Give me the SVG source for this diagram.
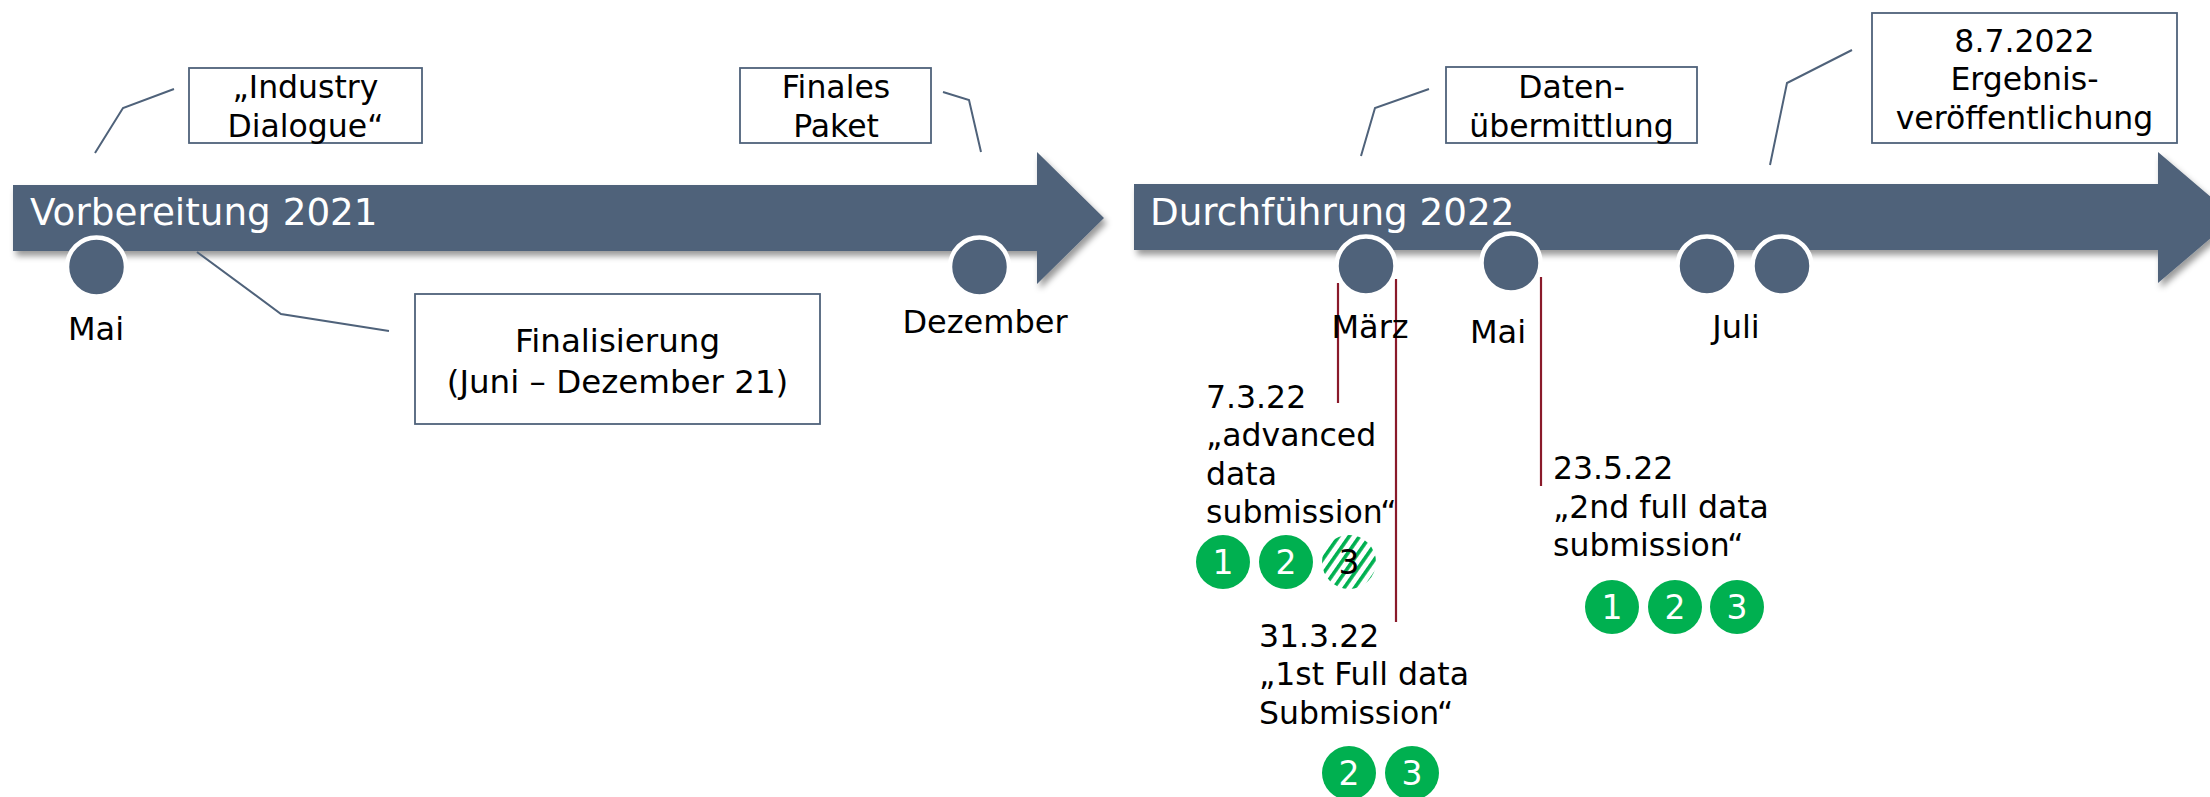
<svg xmlns="http://www.w3.org/2000/svg" width="2210" height="797" viewBox="0 0 2210 797">
<style>
text{font-family:"DejaVu Sans","Liberation Sans",sans-serif;}
.bar{fill:#4F627A;}
.bartxt{fill:#FFFFFF;font-size:37.3px;}
.box{fill:#FFFFFF;stroke:#4F627A;stroke-width:1.8;}
.bt{fill:#000;font-size:31.5px;text-anchor:middle;}
.lbl{fill:#000;font-size:32px;text-anchor:middle;}
.note{fill:#000;font-size:31.5px;}
.dot{fill:#4F627A;stroke:#FFFFFF;stroke-width:4.5;}
.call{fill:none;stroke:#4F627A;stroke-width:2;}
.red{stroke:#8A1A2A;stroke-width:2.2;}
.g{fill:#00B050;}
.gt{fill:#FFFFFF;font-size:33px;text-anchor:middle;}
</style>
<defs>
<filter id="sh" x="-5%" y="-30%" width="110%" height="170%">
<feDropShadow dx="3" dy="5" stdDeviation="3" flood-color="#000" flood-opacity="0.4"/>
</filter>
<pattern id="hatch" width="8.5" height="8.5" patternUnits="userSpaceOnUse" patternTransform="rotate(35)">
<rect x="0" y="0" width="3.6" height="8.5" fill="#00B050"/>
</pattern>
</defs>

<g id="arrow-2021">
<polygon class="bar" filter="url(#sh)" points="13,185 1037,185 1037,152 1104,218 1037,284 1037,251 13,251"/>
<text class="bartxt" x="30" y="225">Vorbereitung 2021</text>
</g>
<g id="arrow-2022">
<polygon class="bar" filter="url(#sh)" points="1134,184 2158,184 2158,152 2235,217.5 2158,283 2158,250 1134,250"/>
<text class="bartxt" x="1150" y="225">Durchführung 2022</text>
</g>

<g id="connectors">
<polyline class="call" points="174,89 123,108 95,153"/>
<polyline class="call" points="197,252 281,314 389,331"/>
<polyline class="call" points="943,92 969,100 981,152"/>
<polyline class="call" points="1429,89 1375,108 1361,156"/>
<polyline class="call" points="1852,50 1787,83 1770,165"/>
<line class="red" x1="1338" y1="283" x2="1338" y2="403"/>
<line class="red" x1="1396" y1="279" x2="1396" y2="622"/>
<line class="red" x1="1541" y1="277" x2="1541" y2="486"/>
</g>

<g id="m-mai21"><circle class="dot" cx="96.5" cy="267" r="29.5"/><text class="lbl" x="96" y="340">Mai</text></g>
<g id="m-dez21"><circle class="dot" cx="979.5" cy="267" r="29.5"/><text class="lbl" x="985" y="333">Dezember</text></g>
<g id="m-maerz22"><circle class="dot" cx="1366" cy="266" r="29.5"/><text class="lbl" x="1370" y="338">März</text></g>
<g id="m-mai22"><circle class="dot" cx="1511" cy="263" r="29.5"/><text class="lbl" x="1498" y="343">Mai</text></g>
<g id="m-juli22"><circle class="dot" cx="1707" cy="266" r="29.5"/><circle class="dot" cx="1782" cy="266" r="29.5"/><text class="lbl" x="1736" y="338">Juli</text></g>

<g id="box-industry"><rect class="box" x="189" y="68" width="233" height="75"/>
<text class="bt" x="305.5" y="98">„Industry</text><text class="bt" x="305.5" y="137">Dialogue“</text></g>
<g id="box-finalisierung"><rect class="box" x="415" y="294" width="405" height="130"/>
<text class="bt" x="617.5" y="352" style="font-size:32.5px">Finalisierung</text><text class="bt" x="617.5" y="393" style="font-size:32.5px">(Juni – Dezember 21)</text></g>
<g id="box-finales"><rect class="box" x="740" y="68" width="191" height="75"/>
<text class="bt" x="836" y="98">Finales</text><text class="bt" x="836" y="137">Paket</text></g>
<g id="box-daten"><rect class="box" x="1446" y="67" width="251" height="76"/>
<text class="bt" x="1571.5" y="98">Daten-</text><text class="bt" x="1571.5" y="137">übermittlung</text></g>
<g id="box-ergebnis"><rect class="box" x="1872" y="13" width="305" height="130"/>
<text class="bt" x="2024.5" y="52">8.7.2022</text><text class="bt" x="2024.5" y="90">Ergebnis-</text><text class="bt" x="2024.5" y="128.5">veröffentlichung</text></g>

<g id="note-advanced">
<text class="note" x="1206" y="408">7.3.22</text>
<text class="note" x="1206" y="446">„advanced</text>
<text class="note" x="1206" y="484.5">data</text>
<text class="note" x="1206" y="523">submission“</text>
<circle class="g" cx="1223" cy="562" r="27"/><text class="gt" x="1223" y="574">1</text>
<circle class="g" cx="1286" cy="562" r="27"/><text class="gt" x="1286" y="574">2</text>
<circle fill="url(#hatch)" cx="1349" cy="562" r="27"/><text class="gt" x="1349" y="574" style="fill:#000">3</text>
</g>
<g id="note-1st">
<text class="note" x="1259" y="647">31.3.22</text>
<text class="note" x="1259" y="685">„1st Full data</text>
<text class="note" x="1259" y="723.5">Submission“</text>
<circle class="g" cx="1349" cy="773" r="27"/><text class="gt" x="1349" y="785">2</text>
<circle class="g" cx="1412" cy="773" r="27"/><text class="gt" x="1412" y="785">3</text>
</g>
<g id="note-2nd">
<text class="note" x="1553" y="479">23.5.22</text>
<text class="note" x="1553" y="517.5">„2nd full data</text>
<text class="note" x="1553" y="556">submission“</text>
<circle class="g" cx="1612" cy="607" r="27"/><text class="gt" x="1612" y="619">1</text>
<circle class="g" cx="1675" cy="607" r="27"/><text class="gt" x="1675" y="619">2</text>
<circle class="g" cx="1737" cy="607" r="27"/><text class="gt" x="1737" y="619">3</text>
</g>
</svg>
